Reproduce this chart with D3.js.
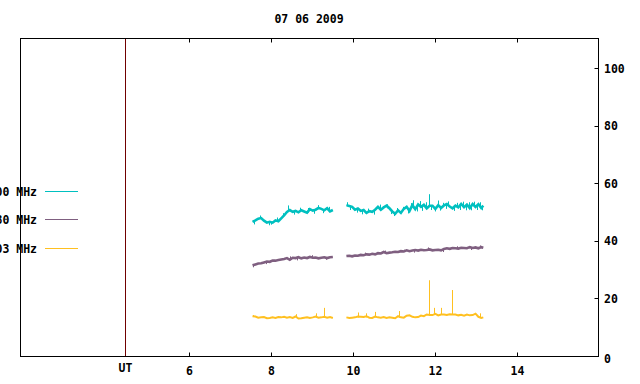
<!DOCTYPE html>
<html><head><meta charset="utf-8">
<script src="https://cdn.jsdelivr.net/npm/d3@7"></script>
<style>
html,body{margin:0;padding:0;background:#fff;}
svg text{font-family:"DejaVu Sans Mono",monospace;font-weight:bold;font-size:11.5px;fill:#000;}
</style></head><body>
<svg id="c" width="640" height="384"></svg>
<script>
const title = "07 06 2009";
const xTicks = [6, 8, 10, 12, 14];
const yTicks = [0, 20, 40, 60, 80, 100];
const utHour = 4.45;
const seriesNames = ["3000 MHz", "1980 MHz", "1403 MHz"];
const seriesColors = ["#00c0c0", "#7f5f80", "#ffc020"];

const times1 = [7.56,7.63,7.70,7.77,7.84,7.91,7.98,8.05,8.12,8.19,8.26,8.33,8.40,8.47,8.54,8.61,8.68,8.75,8.82,8.89,8.96,9.03,9.10,9.17,9.24,9.31,9.38,9.45,9.52];
const times2 = [9.85,9.92,9.99,10.06,10.13,10.20,10.27,10.34,10.41,10.48,10.55,10.62,10.69,10.76,10.83,10.90,10.97,11.04,11.11,11.18,11.25,11.32,11.39,11.46,11.53,11.60,11.67,11.74,11.81,11.88,11.95,12.02,12.09,12.16,12.23,12.30,12.37,12.44,12.51,12.58,12.65,12.72,12.79,12.86,12.93,13.00,13.07,13.14,13.19];

const cyan1 = [46.8,47.3,47.9,48.1,47.2,46.5,46.8,46.5,47.3,47.0,48.0,49.0,50.2,50.9,50.3,50.6,50.1,50.8,50.4,50.0,51.2,50.7,51.0,51.6,51.3,50.8,51.5,50.4,50.9];
const cyan2 = [52.6,52.3,52.0,51.0,51.4,50.6,50.9,49.9,50.5,50.3,51.0,52.0,51.0,51.8,52.4,51.5,50.4,49.6,50.8,49.9,51.3,52.0,50.6,52.6,51.2,52.8,52.0,52.7,51.5,52.4,52.4,51.3,52.6,51.6,52.5,53.0,52.1,51.5,52.4,51.8,53.0,51.9,52.8,51.6,53.0,52.0,52.9,51.6,52.4];
const purple1 = [31.7,32.0,32.3,32.4,32.7,33.0,32.9,33.3,33.3,33.5,33.7,33.9,34.2,33.6,34.3,34.2,34.5,34.1,34.4,34.2,34.6,34.3,34.4,34.1,34.3,34.5,34.2,34.5,34.6];
const purple2 = [34.9,35.0,34.8,35.1,35.0,35.3,35.2,35.5,35.4,35.7,35.5,35.9,35.8,36.3,35.9,36.1,36.2,36.4,36.3,36.6,36.5,36.9,36.6,36.8,37.0,36.8,37.1,36.9,37.0,37.2,36.9,37.0,37.1,36.9,37.4,37.6,37.4,37.7,37.6,37.5,37.8,37.7,37.6,38.0,37.7,37.9,37.6,38.0,37.8];
const yellow1 = [14.0,13.9,13.5,13.6,13.7,13.3,13.4,13.6,13.4,13.7,13.6,13.8,13.5,13.7,13.4,13.9,13.2,13.3,13.5,13.6,13.4,13.6,13.9,13.5,13.6,13.8,13.5,13.7,13.4];
const yellow2 = [13.6,13.4,13.5,13.6,13.9,13.8,13.7,14.0,13.5,13.4,13.9,13.6,13.5,13.7,13.4,13.6,13.5,13.3,14.0,13.6,13.5,14.2,14.3,13.8,13.6,13.7,14.2,14.0,14.6,14.4,14.4,14.8,14.3,14.6,14.6,14.4,14.7,14.6,14.6,14.3,14.5,14.2,14.6,14.3,14.4,14.9,13.8,13.4,13.6];

// spikes: [hour, from, to]
const cyanSpikes = [[7.60,47.0,45.9],[7.74,48.0,49.0],[7.95,46.6,45.6],[8.02,46.7,45.8],[8.15,47.2,48.3],[8.30,48.6,49.8],[8.43,50.3,52.5],[8.58,50.5,49.3],[8.72,50.4,51.7],[8.91,50.0,51.6],[9.06,50.8,49.6],[9.16,51.2,52.6],[9.27,51.0,49.8],[9.42,50.9,52.0],
  [9.86,52.2,53.6],[9.95,52.1,50.9],[10.10,51.2,50.0],[10.24,50.7,49.4],[10.38,50.2,51.4],[10.52,50.6,49.3],[10.66,51.5,52.8],[10.84,51.5,52.9],[10.94,50.9,49.5],[11.02,50.0,48.8],[11.08,50.2,51.6],[11.22,50.6,52.0],[11.36,51.3,49.7],[11.42,51.5,53.3],[11.48,51.5,54.3],[11.57,52.0,50.4],[11.64,52.6,54.0],[11.70,52.2,50.6],[11.78,52.0,53.6],[11.86,52.0,56.4],[11.92,52.4,50.9],[12.00,51.8,50.4],[12.08,52.0,54.2],[12.13,52.1,50.7],[12.20,52.0,53.4],[12.27,52.7,51.3],[12.34,52.5,53.9],[12.48,52.0,50.6],[12.55,52.0,53.4],[12.62,52.4,50.9],[12.69,52.4,53.8],[12.76,52.3,50.8],[12.83,52.2,53.6],[12.90,52.3,50.8],[12.97,52.4,53.8],[13.04,52.4,50.9],[13.11,52.2,53.6],[13.17,52.0,50.8]];
const purpleSpikes = [[7.58,31.8,31.0],[7.88,32.9,32.1],[8.48,33.9,34.8],[8.64,34.3,33.4],[9.00,34.4,35.2],[9.35,34.3,33.6],[10.30,35.3,36.1],[10.80,36.0,36.8],[11.25,36.3,37.1],[11.50,36.9,36.1],[11.84,37.1,37.9],[12.20,37.1,36.3],[12.55,37.5,38.3],[12.90,37.8,37.0],[13.10,37.8,38.6]];
const yellowSpikes = [[7.58,13.9,14.4],[8.61,13.5,14.7],[9.12,13.6,15.0],[9.30,13.6,16.9],[10.13,13.6,15.3],[10.34,13.6,15.0],[10.56,13.6,15.5],[11.13,13.5,15.8],[11.86,14.4,26.5],[11.98,14.4,16.9],[12.15,14.5,16.9],[12.42,14.6,23.1],[13.12,13.6,15.0]];

const svg = d3.select("#c");
const x = d3.scaleLinear().domain([1.9, 16]).range([20.5, 598.5]);
const y = d3.scaleLinear().domain([0, 110.5]).range([356.5, 38.5]);

// UT line
svg.append("line").attr("x1", Math.round(x(utHour)) + 0.5).attr("x2", Math.round(x(utHour)) + 0.5)
  .attr("y1", y.range()[1]).attr("y2", y.range()[0]).attr("stroke", "#700000").attr("stroke-width", 1);

// Data
const line = d3.line().x(d => x(d[0])).y(d => y(d[1]));
const series = [
  [cyan1, cyan2, cyanSpikes],
  [purple1, purple2, purpleSpikes],
  [yellow1, yellow2, yellowSpikes]
];
series.forEach((s, i) => {
  [[times1, s[0]], [times2, s[1]]].forEach(([t, v]) => {
    svg.append("path").datum(t.map((tt, k) => [tt, v[k]]))
      .attr("d", line).attr("fill", "none").attr("stroke", seriesColors[i])
      .attr("stroke-width", i === 2 ? 2 : 2.6).attr("stroke-linejoin", "miter");
  });
  svg.selectAll(null).data(s[2]).enter().append("line")
    .attr("x1", d => Math.round(x(d[0])) + 0.5).attr("x2", d => Math.round(x(d[0])) + 0.5)
    .attr("y1", d => y(d[1])).attr("y2", d => y(d[2]))
    .attr("stroke", seriesColors[i]).attr("stroke-width", 1);
});

// Border
svg.append("rect").attr("x", x.range()[0]).attr("y", y.range()[1])
  .attr("width", x.range()[1] - x.range()[0]).attr("height", y.range()[0] - y.range()[1])
  .attr("fill", "none").attr("stroke", "#000").attr("stroke-width", 1);

// X ticks bottom & top (inward)
xTicks.forEach(t => {
  const px = Math.round(x(t)) + 0.5;
  svg.append("line").attr("x1", px).attr("x2", px).attr("y1", y.range()[0]).attr("y2", y.range()[0] - 4).attr("stroke", "#000");
  svg.append("line").attr("x1", px).attr("x2", px).attr("y1", y.range()[1]).attr("y2", y.range()[1] + 4).attr("stroke", "#000");
  svg.append("text").attr("x", px).attr("y", 375).attr("text-anchor", "middle").text(t);
});
svg.append("text").attr("x", Math.round(x(utHour)) + 0.5).attr("y", 371.5).attr("text-anchor", "middle").text("UT");

// Y ticks right (inward)
yTicks.forEach(t => {
  const py = Math.round(y(t) - 0.5) + 0.5;
  if (t > 0) svg.append("line").attr("x1", x.range()[1]).attr("x2", x.range()[1] - 4).attr("y1", py).attr("y2", py).attr("stroke", "#000");
  svg.append("text").attr("x", 604).attr("y", y(t) + 4 + (t === 0 ? 2 : 0)).text(t);
});

// Title
svg.append("text").attr("x", 309).attr("y", 23).attr("text-anchor", "middle").text(title);

// Legend
const legY = [191.5, 219.5, 248.5];
seriesNames.forEach((n, i) => {
  svg.append("text").attr("x", 37).attr("y", legY[i] + 4).attr("text-anchor", "end").text(n);
  svg.append("line").attr("x1", 45).attr("x2", 78).attr("y1", legY[i]).attr("y2", legY[i]).attr("stroke", seriesColors[i]);
});
</script></body></html>
